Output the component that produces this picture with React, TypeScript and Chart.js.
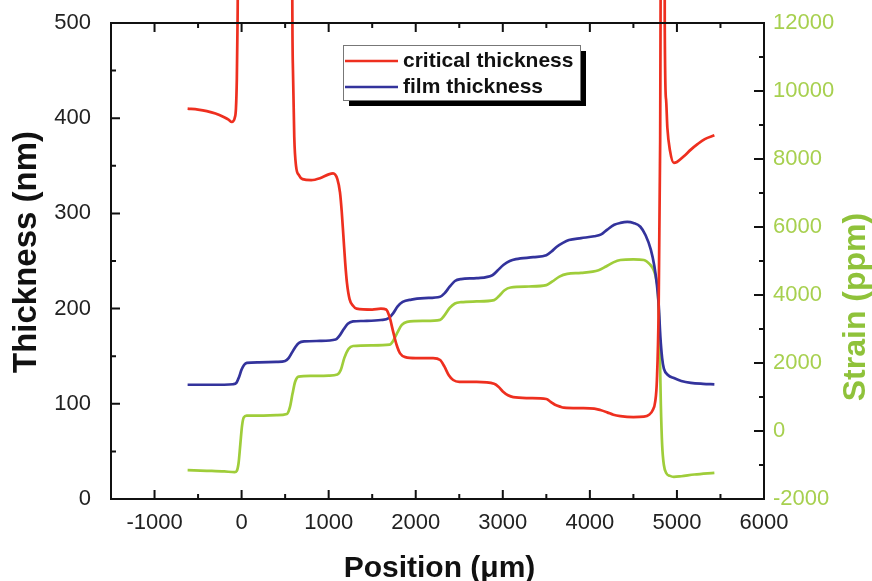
import React, { useEffect, useRef } from 'react';
import { Chart, registerables } from 'chart.js';
Chart.register(...registerables);

const FONT = '"Liberation Sans", Arial, sans-serif';
const RED = '#ee2f1f';
const BLUE = '#33339c';
const GREEN = '#9fcd3a';
const GREEN_TEXT = '#a7d04f';
const GREEN_TITLE = '#8fc23a';

// critical thickness (nm)
const criticalX = [-620, -500, -400, -300, -200, -150, -112, -95, -80, -65, -55, -48, -42, -30,
  570, 580, 590, 605, 625, 660, 700, 800, 900, 1000, 1050, 1100, 1130, 1150, 1170, 1190, 1210, 1240, 1280, 1320,
  1500, 1600, 1660, 1700, 1740, 1780, 1820, 1880, 2000, 2200, 2280, 2330, 2380, 2430, 2500, 2700, 2900, 2950,
  3000, 3060, 3120, 3300, 3500, 3550, 3600, 3660, 3700, 3900, 4050, 4120, 4200, 4270, 4350, 4500, 4620, 4680,
  4720, 4750, 4770, 4790, 4805, 4815, 4825, 4850, 4860, 4875, 4890, 4920, 4965, 5000, 5080, 5160, 5240, 5320, 5430];
const criticalY = [410, 409, 407.5, 405, 401, 398.5, 396, 397, 400, 410, 440, 490, 600, 2000,
  2000, 600, 450, 380, 350, 340, 336, 335, 337, 341, 342, 336, 322, 302, 275, 248, 227, 210, 203, 200,
  199, 200, 199, 191, 176, 162, 153, 149, 148, 148, 146, 139, 130, 125, 123, 123, 121, 118,
  113, 109, 107, 106, 105, 102, 99, 97, 96, 95.5, 95, 93.5, 91, 88.5, 87, 86, 86.5, 88.5,
  93, 102, 125, 200, 350, 600, 2000, 2000, 500, 420, 390, 366, 353, 354, 360, 367, 373, 378, 382];

// film thickness (nm)
const filmX = [-620, -400, -200, -100, -60, -30, 0, 30, 60, 200, 400, 500, 540, 580, 620, 660, 720, 900, 1080,
  1120, 1170, 1220, 1280, 1400, 1600, 1690, 1740, 1790, 1850, 1950, 2100, 2280, 2330, 2390, 2450, 2520, 2700,
  2880, 2940, 3010, 3080, 3150, 3350, 3500, 3560, 3620, 3690, 3760, 3900, 4050, 4130, 4200, 4280, 4350, 4430,
  4500, 4580, 4640, 4700, 4740, 4770, 4790, 4810, 4830, 4850, 4900, 4965, 5050, 5160, 5300, 5430];
const filmY = [120, 120, 120, 120.5, 122, 128, 136, 141, 143, 143.5, 144, 145, 148, 154, 160, 164, 165.5, 166, 167.5,
  171, 178, 184, 186.5, 187, 188, 190, 195, 202, 207, 209.5, 211, 212.5, 216, 223, 229, 231, 232,
  235, 240, 246, 250, 252, 254, 256, 260, 265, 269, 272, 274, 276, 278, 283, 288, 290, 291,
  290, 286, 277, 262, 245, 225, 205, 170, 148, 137, 130, 127, 124, 122, 121, 120.5];

// strain (ppm)
const strainX = [-620, -400, -200, -80, -55, -35, -15, 5, 25, 60, 200, 400, 520, 555, 585, 615, 655, 800, 1000,
  1100, 1140, 1180, 1230, 1280, 1500, 1700, 1740, 1790, 1840, 1900, 2100, 2280, 2330, 2390, 2450, 2520, 2700,
  2900, 2960, 3020, 3090, 3300, 3500, 3570, 3650, 3740, 3900, 4100, 4180, 4270, 4350, 4500, 4620, 4690, 4730,
  4760, 4780, 4800, 4815, 4830, 4850, 4880, 4920, 4965, 5050, 5200, 5430];
const strainY = [-1150, -1170, -1190, -1210, -1170, -950, -400, 150, 400, 450, 455, 465, 500, 700, 1100, 1450, 1600, 1620, 1630,
  1660, 1800, 2150, 2420, 2500, 2520, 2540, 2650, 2900, 3120, 3210, 3240, 3270, 3400, 3620, 3750, 3790, 3810,
  3850, 3980, 4140, 4220, 4250, 4290, 4400, 4540, 4620, 4650, 4730, 4830, 4960, 5030, 5050, 5030, 4900, 4750,
  4500, 4150, 2800, 800, -400, -1000, -1250, -1320, -1350, -1330, -1280, -1230];

const xTicks = [-1000, 0, 1000, 2000, 3000, 4000, 5000, 6000];
const xMinorTicks = [-1000, -500, 0, 500, 1000, 1500, 2000, 2500, 3000, 3500, 4000, 4500, 5000, 5500];
const yTicks = [0, 100, 200, 300, 400, 500];
const yMinorTicks = [50, 150, 250, 350, 450];
const y1Ticks = [-2000, 0, 2000, 4000, 6000, 8000, 10000, 12000];
const y1MinorTicks = [-1000, 1000, 3000, 5000, 7000, 9000, 11000];

const pts = (xs: number[], ys: number[]) => xs.map((x, i) => ({ x, y: ys[i] }));

const framePlugin = {
  id: 'frameTicks',
  afterDatasetsDraw(chart: any) {
    const { ctx, chartArea: a, scales } = chart;
    ctx.save();
    ctx.strokeStyle = '#111';
    ctx.lineWidth = 2;
    ctx.beginPath();
    const major = 9, minor = 5;
    xMinorTicks.forEach((v) => {
      const px = scales.x.getPixelForValue(v);
      const len = v % 1000 === 0 ? major : minor;
      ctx.moveTo(px, a.bottom); ctx.lineTo(px, a.bottom - len);
      ctx.moveTo(px, a.top); ctx.lineTo(px, a.top + len);
    });
    yTicks.concat(yMinorTicks).forEach((v) => {
      const py = scales.y.getPixelForValue(v);
      const len = v % 100 === 0 ? major : minor;
      ctx.moveTo(a.left, py); ctx.lineTo(a.left + len, py);
    });
    y1Ticks.concat(y1MinorTicks).forEach((v) => {
      const py = scales.y1.getPixelForValue(v);
      const len = v % 2000 === 0 ? major + 1 : minor;
      ctx.moveTo(a.right, py); ctx.lineTo(a.right - len, py);
    });
    ctx.stroke();
    ctx.strokeRect(a.left, a.top, a.right - a.left, a.bottom - a.top);
    ctx.restore();
  },
  afterDraw(chart: any) {
    const { ctx, chartArea: a } = chart;
    // x axis title
    ctx.save();
    ctx.textAlign = 'center';
    ctx.textBaseline = 'alphabetic';
    ctx.fillStyle = '#111';
    ctx.font = `bold 30px ${FONT}`;
    ctx.fillText('Position (μm)', (a.left + a.right) / 2 + 2, chart.height - 4);
    ctx.restore();
    // left title
    ctx.save();
    ctx.textAlign = 'center';
    ctx.textBaseline = 'middle';
    ctx.fillStyle = '#111';
    ctx.font = `bold 33px ${FONT}`;
    ctx.translate(27, (a.top + a.bottom) / 2 - 9);
    ctx.rotate(-Math.PI / 2);
    ctx.fillText('Thickness (nm)', 0, 0);
    ctx.restore();
    // right title
    ctx.save();
    ctx.textAlign = 'center';
    ctx.textBaseline = 'middle';
    ctx.fillStyle = GREEN_TITLE;
    ctx.font = `bold 32px ${FONT}`;
    ctx.translate(chart.width - 16, (a.top + a.bottom) / 2 + 46);
    ctx.rotate(-Math.PI / 2);
    ctx.fillText('Strain (ppm)', 0, 0);
    ctx.restore();

    // legend
    const ds = chart.data.datasets.filter((d: any) => d.inLegend);
    const bx = a.left + 232, by = a.top + 22, bw = 237, bh = 55;
    ctx.save();
    ctx.fillStyle = '#000';
    ctx.fillRect(bx + 6, by + 6, bw, bh);
    ctx.fillStyle = '#fff';
    ctx.fillRect(bx, by, bw, bh);
    ctx.strokeStyle = '#777';
    ctx.lineWidth = 1;
    ctx.strokeRect(bx + 0.5, by + 0.5, bw, bh);
    ds.forEach((d: any, i: number) => {
      const ly = by + 16 + i * 26;
      ctx.strokeStyle = d.borderColor;
      ctx.lineWidth = 2.5;
      ctx.beginPath();
      ctx.moveTo(bx + 2, ly); ctx.lineTo(bx + 55, ly);
      ctx.stroke();
      ctx.fillStyle = '#111';
      ctx.font = `bold 21px ${FONT}`;
      ctx.textAlign = 'left';
      ctx.textBaseline = 'alphabetic';
      ctx.fillText(d.label, bx + 60, ly + 6);
    });
    ctx.restore();
  },
};

export default function App() {
  const ref = useRef<HTMLCanvasElement>(null);
  useEffect(() => {
    document.body.style.margin = '0';
    const canvas = ref.current!;
    const common = { pointRadius: 0, borderWidth: 2.7, cubicInterpolationMode: 'monotone' as const, fill: false };
    const chart = new Chart(canvas, {
      type: 'line',
      data: {
        datasets: [
          { ...common, label: 'critical thickness', data: pts(criticalX, criticalY), borderColor: RED, yAxisID: 'y', clip: false, inLegend: true } as any,
          { ...common, label: 'film thickness', data: pts(filmX, filmY), borderColor: BLUE, yAxisID: 'y', inLegend: true } as any,
          { ...common, label: 'strain', data: pts(strainX, strainY), borderColor: GREEN, yAxisID: 'y1' } as any,
        ],
      },
      options: {
        animation: false,
        responsive: false,
        devicePixelRatio: 1,
        layout: { padding: { top: 23, left: 0, right: 0, bottom: 0 } },
        plugins: { legend: { display: false }, tooltip: { enabled: false } },
        scales: {
          x: {
            type: 'linear', min: -1500, max: 6000,
            grid: { display: false, drawTicks: false }, border: { display: false },
            afterBuildTicks: (s: any) => { s.ticks = xTicks.map((value) => ({ value })); },
            afterFit: (s: any) => { s.height = 82; s.paddingLeft = 0; s.paddingRight = 0; },
            ticks: { font: { family: FONT, size: 22 }, color: '#222', padding: 11, maxRotation: 0, autoSkip: false, callback: (v: any) => String(v) },
          },
          y: {
            type: 'linear', position: 'left', min: 0, max: 500,
            grid: { display: false, drawTicks: false }, border: { display: false },
            afterBuildTicks: (s: any) => { s.ticks = yTicks.map((value) => ({ value })); },
            afterFit: (s: any) => { s.width = 111; s.paddingTop = 0; s.paddingBottom = 0; },
            ticks: { font: { family: FONT, size: 22 }, color: '#222', padding: 20, autoSkip: false, callback: (v: any) => String(v) },
          },
          y1: {
            type: 'linear', position: 'right', min: -2000, max: 12000,
            grid: { display: false, drawTicks: false }, border: { display: false },
            afterBuildTicks: (s: any) => { s.ticks = y1Ticks.map((value) => ({ value })); },
            afterFit: (s: any) => { s.width = 108; s.paddingTop = 0; s.paddingBottom = 0; },
            ticks: { font: { family: FONT, size: 22 }, color: GREEN_TEXT, padding: 9, autoSkip: false, callback: (v: any) => String(v) },
          },
        },
      } as any,
      plugins: [framePlugin],
    });
    return () => chart.destroy();
  }, []);
  return (
    <div style={{ width: 872, height: 581, background: '#fff' }}>
      <canvas ref={ref} width={872} height={581} style={{ display: 'block' }} />
    </div>
  );
}
